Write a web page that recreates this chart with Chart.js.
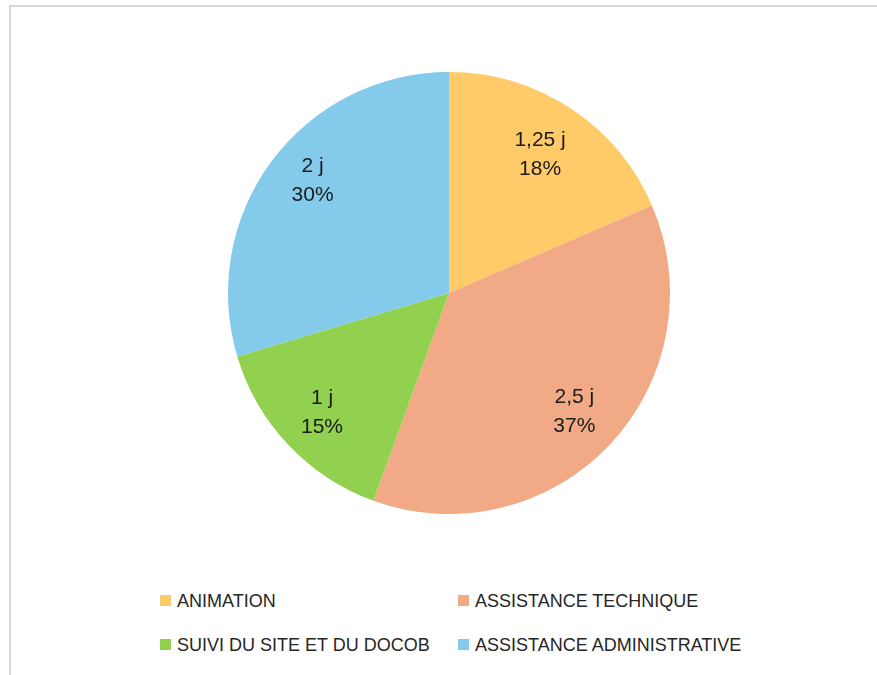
<!DOCTYPE html>
<html>
<head>
<meta charset="utf-8">
<script src="https://cdn.jsdelivr.net/npm/chart.js@4/dist/chart.umd.min.js"></script>
<style>
  html, body { margin: 0; padding: 0; background: #fff; width: 877px; height: 675px; overflow: hidden; }
  .frame { position: absolute; left: 9px; top: 5px; width: 900px; height: 700px;
           border-left: 2px solid #d6d6d6; border-top: 2px solid #d6d6d6; }
  .pie { position: absolute; left: 228px; top: 72px; width: 442px; height: 442px; }
  .legend { position: absolute; left: 0; top: 0; font-family: "Liberation Sans", Arial, sans-serif;
            font-size: 18px; color: #262626; }
  .legend .item { position: absolute; white-space: nowrap; line-height: 20px; }
  .legend .box { display: inline-block; width: 11px; height: 11px; margin-right: 6px; vertical-align: 1px; }
</style>
</head>
<body>
<div class="frame"></div>
<div class="pie"><canvas id="chartCanvas"></canvas></div>
<div class="legend" id="legend"></div>
<script>
const categories = ['ANIMATION', 'ASSISTANCE TECHNIQUE', 'SUIVI DU SITE ET DU DOCOB', 'ASSISTANCE ADMINISTRATIVE'];
const days = [1.25, 2.5, 1, 2];
const dayLabels = ['1,25 j', '2,5 j', '1 j', '2 j'];
const percentLabels = ['18%', '37%', '15%', '30%'];
const colors = ['#FFCA68', '#F1AA85', '#92D050', '#84CBEB'];

// legend: two columns, two rows
const legendPos = [[160, 591], [458, 591], [160, 635], [458, 635]];
const legend = document.getElementById('legend');
categories.forEach((c, i) => {
  const el = document.createElement('div');
  el.className = 'item';
  el.style.left = legendPos[i][0] + 'px';
  el.style.top = legendPos[i][1] + 'px';
  el.innerHTML = '<span class="box" style="background:' + colors[i] + '"></span>' + c;
  legend.appendChild(el);
});

// how far out each label sits, as a share of the radius (excel "best fit")
const labelRadius = [0.75, 0.78, 0.79, 0.80];
const labelTurn = [0, 0, 0, 0.05];

const sliceLabels = {
  id: 'sliceLabels',
  afterDatasetsDraw(chart) {
    const ctx = chart.ctx;
    const meta = chart.getDatasetMeta(0);
    ctx.save();
    ctx.font = '21px "Liberation Sans", Arial, sans-serif';
    ctx.fillStyle = '#1a1a1a';
    ctx.textAlign = 'center';
    ctx.textBaseline = 'middle';
    meta.data.forEach((arc, i) => {
      const p = arc.getProps(['x', 'y', 'startAngle', 'endAngle', 'outerRadius']);
      const mid = (p.startAngle + p.endAngle) / 2 + labelTurn[i];
      const r = p.outerRadius * labelRadius[i];
      const cx = p.x + Math.cos(mid) * r;
      const cy = p.y + Math.sin(mid) * r;
      ctx.fillText(dayLabels[i], cx, cy - 14.5);
      ctx.fillText(percentLabels[i], cx, cy + 14.5);
    });
    ctx.restore();
  }
};

const ctx = document.getElementById('chartCanvas').getContext('2d');
new Chart(ctx, {
  type: 'pie',
  data: {
    labels: categories,
    datasets: [{
      data: days,
      backgroundColor: colors,
      borderWidth: 0
    }]
  },
  options: {
    responsive: true,
    maintainAspectRatio: false,
    animation: false,
    layout: { padding: 0 },
    plugins: {
      legend: { display: false },
      tooltip: { enabled: false }
    }
  },
  plugins: [sliceLabels]
});
</script>
</body>
</html>
